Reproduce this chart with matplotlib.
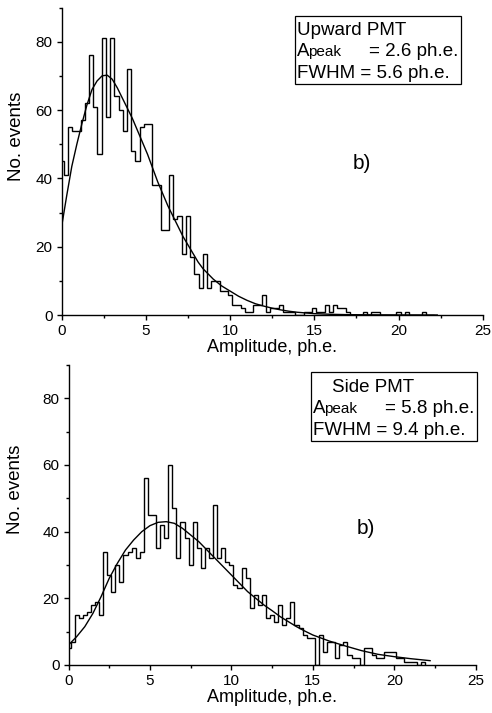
import matplotlib
matplotlib.use('Agg')
import matplotlib.pyplot as plt
import numpy as np
from matplotlib.patches import Rectangle
from matplotlib.ticker import MultipleLocator

plt.rcParams['font.family'] = ['Liberation Sans', 'DejaVu Sans']

# ---------------- data ----------------
BIN_WIDTH = 0.25  # histogram bin width (ph.e.), bins centred on multiples of it

top_counts = [45, 41, 55, 54, 54, 57, 62, 76, 61, 47,
              81, 58, 81, 64, 60, 54, 72, 48, 45, 55,
              56, 56, 38, 38, 25, 25, 41, 28, 29, 18,
              29, 17, 12, 8, 18, 8, 10, 10, 7, 7,
              6, 3, 3, 2, 1, 1, 3, 3, 6, 1,
              2, 2, 3, 1, 1, 1, 0, 0, 1, 1,
              2, 1, 1, 3, 1, 3, 2, 2, 1, 0,
              0, 0, 1, 0, 1, 1, 0, 0, 0, 0,
              1, 0, 1, 0, 0, 0, 1, 0, 0]

bottom_counts = [5, 7, 15, 14, 15, 16, 18, 19, 15, 34,
                 27, 22, 30, 25, 33, 34, 35, 32, 34, 56,
                 45, 45, 35, 42, 38, 60, 47, 32, 43, 38,
                 30, 43, 35, 29, 35, 32, 48, 32, 35, 31,
                 30, 24, 23, 29, 26, 17, 21, 18, 21, 14,
                 15, 13, 18, 12, 14, 19, 12, 11, 9, 8,
                 8, 0, 9, 4, 7, 7, 2, 6, 7, 3,
                 2, 2, 0, 5, 5, 3, 2, 2, 4, 4,
                 4, 2, 2, 1, 1, 1, 0, 1]

top_fit_x = [0.0, 0.3, 0.6, 0.9, 1.2, 1.5, 1.8, 2.1, 2.4, 2.7, 3.0, 3.3, 3.6, 3.9,
             4.2, 4.5, 4.8, 5.1, 5.4, 5.7, 6.0, 6.3, 6.6, 6.9, 7.2, 7.5, 7.8, 8.1,
             8.4, 8.7, 9.0, 9.5, 10.0, 10.5, 11.0, 11.5, 12.0, 12.5, 13.0, 13.5,
             14.0, 15.0, 16.0, 17.0, 18.5, 20.0, 22.3]
top_fit_y = [26, 35, 43.5, 50, 56, 61.5, 66, 68.5, 70, 70.2, 69, 66.5, 63.5, 60.5,
             57.5, 54, 50.5, 47, 43, 39, 35.5, 32, 29, 26, 23, 20.5, 18, 15.5,
             13.5, 12, 10.5, 8.5, 7, 5.5, 4.3, 3.3, 2.6, 2.0, 1.5, 1.1,
             0.8, 0.4, 0.2, 0.1, 0.05, 0.02, 0.0]

bottom_fit_x = [0.0, 0.5, 1.0, 1.5, 2.0, 2.5, 3.0, 3.5, 4.0, 4.5, 5.0, 5.5, 6.0, 6.5,
                7.0, 7.5, 8.0, 8.5, 9.0, 9.5, 10.0, 10.5, 11.0, 11.5, 12.0, 12.5,
                13.0, 13.5, 14.0, 14.5, 15.0, 16.0, 17.0, 18.0, 19.0, 20.0, 21.0, 22.2]
bottom_fit_y = [6, 8.5, 11.5, 15.5, 20.5, 26, 30.5, 34.5, 37.5, 40, 41.8, 42.8, 43, 42.5,
                41, 39, 37, 34.5, 32, 29.5, 27, 24.5, 22, 20, 18, 16.3,
                14.5, 13, 11.5, 10.2, 9, 7.2, 5.7, 4.3, 3.2, 2.5, 1.9, 1.3]

x_ticks = [0, 5, 10, 15, 20, 25]
y_ticks = [0, 20, 40, 60, 80]

# ---------------- figure ----------------
W, H = 492, 713
fig = plt.figure(figsize=(W / 100, H / 100), dpi=100)


def fx(px):
    return px / W


def fy(py):
    return 1 - py / H


ax1 = fig.add_axes([fx(61.7), fy(315), (482.7 - 61.7) / W, (315 - 7.5) / H])
ax2 = fig.add_axes([fx(68.5), fy(665), (475.7 - 68.5) / W, (665 - 365) / H])


def edges_for(counts):
    centers = np.arange(len(counts)) * BIN_WIDTH
    return np.concatenate([centers - BIN_WIDTH / 2, [centers[-1] + BIN_WIDTH / 2]])


for ax, counts, fxs, fys in [(ax1, top_counts, top_fit_x, top_fit_y),
                             (ax2, bottom_counts, bottom_fit_x, bottom_fit_y)]:
    ax.stairs(counts, edges_for(counts), baseline=0, color='black', linewidth=1.0)
    ax.plot(fxs, fys, color='black', linewidth=1.0)
    ax.set_xlim(0, 25)
    ax.set_ylim(0, 90)
    ax.set_xticks(x_ticks)
    ax.set_yticks(y_ticks)
    ax.xaxis.set_minor_locator(MultipleLocator(2.5))
    ax.yaxis.set_minor_locator(MultipleLocator(10))
    for s in ['top', 'right']:
        ax.spines[s].set_visible(False)
    for s in ['left', 'bottom']:
        ax.spines[s].set_linewidth(1.0)
    ax.tick_params(which='major', direction='out', length=3.5, width=1.0,
                   labelsize=11, pad=3)
    ax.tick_params(which='minor', direction='out', length=2.2, width=1.0)
    ax.set_xlabel('Amplitude, ph.e.', fontsize=13, labelpad=1)

ax1.set_ylabel('No. events', fontsize=13.5)
ax1.yaxis.set_label_coords(-0.086, 0.58)
ax2.set_ylabel('No. events', fontsize=13.5)
ax2.yaxis.set_label_coords(-0.109, 0.587)

ax1.text(17.8, 44.2, 'b)', fontsize=15, ha='center', va='center')
ax2.text(18.25, 40.8, 'b)', fontsize=15, ha='center', va='center')


# ---------------- annotation boxes ----------------
def info_box(left, top, title, title_x, peak_val, fwhm_val):
    w, h = 166, 68.7
    fig.patches.append(Rectangle((fx(left), fy(top + h)), w / W, h / H,
                                 transform=fig.transFigure, facecolor='white',
                                 edgecolor='black', linewidth=0.9, zorder=5))
    fs = 13.5
    fig.text(fx(title_x), fy(top + 19.4), title, fontsize=fs, va='baseline', zorder=6)
    fig.text(fx(left + 2.3), fy(top + 40.7), 'A', fontsize=fs, va='baseline', zorder=6)
    fig.text(fx(left + 13.3), fy(top + 40.7), 'peak', fontsize=11, va='baseline', zorder=6)
    fig.text(fx(left + 74.3), fy(top + 40.7), '= ' + peak_val, fontsize=fs,
             va='baseline', zorder=6)
    fig.text(fx(left + 2), fy(top + 62.7), 'FWHM = ' + fwhm_val, fontsize=fs,
             va='baseline', zorder=6)


info_box(295, 15.7, 'Upward PMT', 297, '2.6 ph.e.', '5.6 ph.e.')
info_box(310.7, 372.3, 'Side PMT', 331.7, '5.8 ph.e.', '9.4 ph.e.')

fig.savefig('out.png', dpi=100)
